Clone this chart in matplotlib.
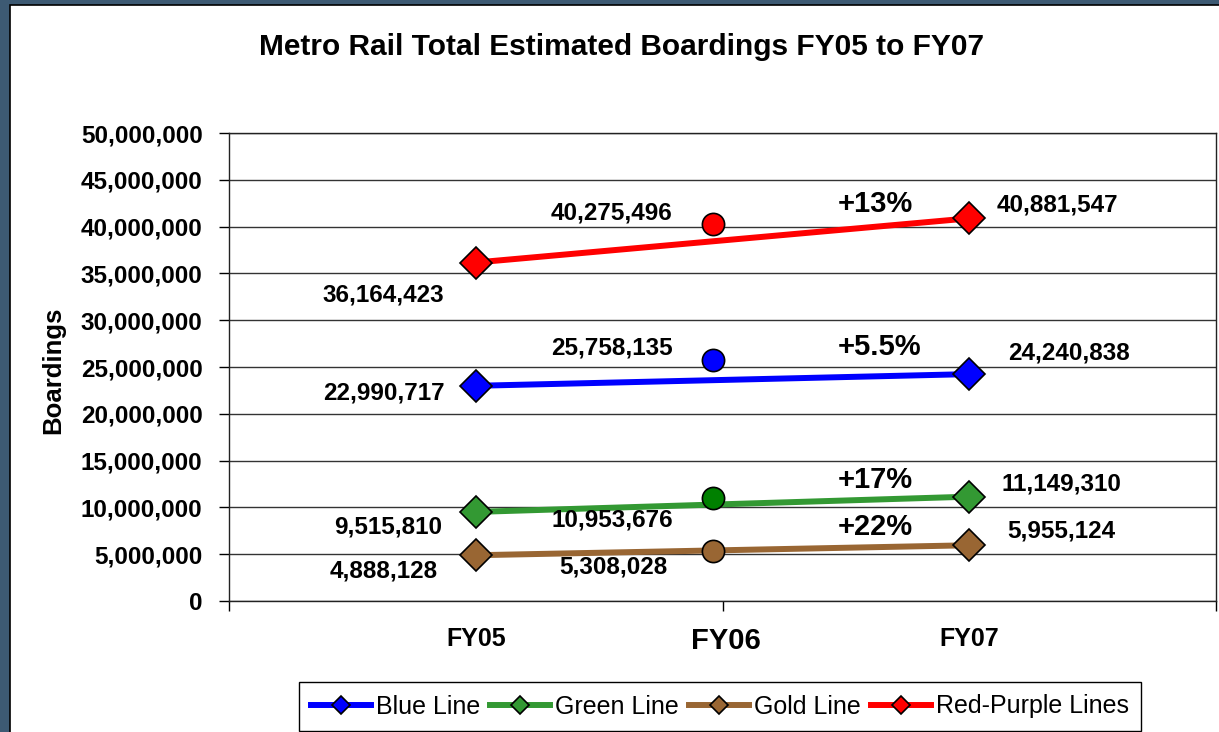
import matplotlib
matplotlib.use('Agg')
import numpy as np
import matplotlib.pyplot as plt
from matplotlib.patches import Rectangle
from matplotlib.ticker import FuncFormatter

# data
years = ['FY05', 'FY07']
mid_year = 'FY06'
lines = ['Blue Line', 'Green Line', 'Gold Line', 'Red-Purple Lines']
fy05 = [22990717, 9515810, 4888128, 36164423]
fy06 = [25758135, 10953676, 5308028, 40275496]
fy07 = [24240838, 11149310, 5955124, 40881547]
growth = ['+5.5%', '+17%', '+22%', '+13%']

line_colors = ['#0000ff', '#339933', '#996633', '#ff0000']
fy06_colors = ['#0000ff', '#008000', '#996633', '#ff0000']

# label offsets in pixels (dx, dy) for fy05 / fy06 / fy07 / growth
off05 = [(-92, -7), (-88, -15), (-92, -16), (-92, -32)]
off06 = [(-101, 12), (-100, -22), (-99, -16), (-101, 11)]
off07 = [(100, 21), (92, 13), (92, 14), (88, 13)]
offg = [(-90, 27), (-94, 17), (-94, 18), (-94, 14)]

bold = dict(family='Liberation Sans', weight='bold')

fig = plt.figure(figsize=(12.19, 7.32), dpi=100)
fig.patch.set_facecolor('#3d5a73')
fig.patches.append(Rectangle((10 / 1219, -0.01), 1.0, 727 / 732 + 0.01,
                             transform=fig.transFigure, facecolor='white',
                             edgecolor='black', lw=1.2, zorder=-1))

ax = fig.add_axes([229 / 1219, 131 / 732, 987 / 1219, 468 / 732])
ax.set_xlim(0, 2)
ax.set_ylim(0, 50e6)

x = np.arange(len(years)) + 0.5
x06 = 0.98

for i, name in enumerate(lines):
    ax.plot(x, [fy05[i], fy07[i]], color=line_colors[i], lw=4.3, marker='D',
            ms=16, mfc=line_colors[i], mec='black', mew=1.2, label=name, zorder=3)
    ax.plot([x06], [fy06[i]], marker='o', ls='none', ms=16, mfc=fy06_colors[i],
            mec='black', mew=1.2, zorder=4)
    for xx, yy, off in [(x[0], fy05[i], off05[i]), (x06, fy06[i], off06[i]),
                        (x[1], fy07[i], off07[i])]:
        ax.annotate(f'{yy:,}', (xx, yy), xytext=off, textcoords='offset pixels',
                    ha='center', va='center', fontsize=17.5, **bold)
    ax.annotate(growth[i], (x[1], fy07[i]), xytext=offg[i], textcoords='offset pixels',
                ha='center', va='center', fontsize=21, **bold)

ax.set_yticks(np.arange(0, 50e6 + 1, 5e6))
ax.yaxis.set_major_formatter(FuncFormatter(lambda v, p: f'{v:,.0f}'))
ax.set_xticks([0, 1, 2])
ax.set_xticklabels([])
ax.tick_params(axis='both', direction='out', length=7, width=1, color='black')
ax.tick_params(axis='y', pad=12)
for lab in ax.get_yticklabels():
    lab.set_fontsize(17.5)
    lab.set_fontfamily('Liberation Sans')
    lab.set_fontweight('bold')
ax.yaxis.grid(True, color='#333333', lw=1)
ax.set_axisbelow(True)
for s in ax.spines.values():
    s.set_color('#222222')
    s.set_linewidth(1)

# category labels
for xx, name in zip(x, years):
    ax.annotate(name, (xx, 0), xycoords=('data', 'axes fraction'), xytext=(0, -38),
                textcoords='offset pixels', ha='center', va='center',
                fontsize=18, **bold)
ax.annotate(mid_year, (x06, 0), xycoords=('data', 'axes fraction'), xytext=(13, -40),
            textcoords='offset pixels', ha='center', va='center',
            fontsize=21, **bold)

fig.text(53 / 1219, 1 - 370 / 732, 'Boardings', rotation=90, ha='center', va='center',
         fontsize=18.5, **bold)
fig.text(622 / 1219, 1 - 47 / 732, 'Metro Rail Total Estimated Boardings FY05 to FY07',
         ha='center', va='center', fontsize=21.5, **bold)

leg = fig.legend(loc='lower center', bbox_to_anchor=(720 / 1219, 1 / 732), ncol=4,
                 frameon=True, fancybox=False, edgecolor='black', framealpha=1,
                 prop=dict(family='Liberation Sans', size=18), markerscale=0.55,
                 handlelength=2.4, handletextpad=0.2, columnspacing=0.4,
                 borderpad=0.5, borderaxespad=0)
leg.get_frame().set_linewidth(1)

fig.savefig('out.png', dpi=100, facecolor=fig.get_facecolor())
